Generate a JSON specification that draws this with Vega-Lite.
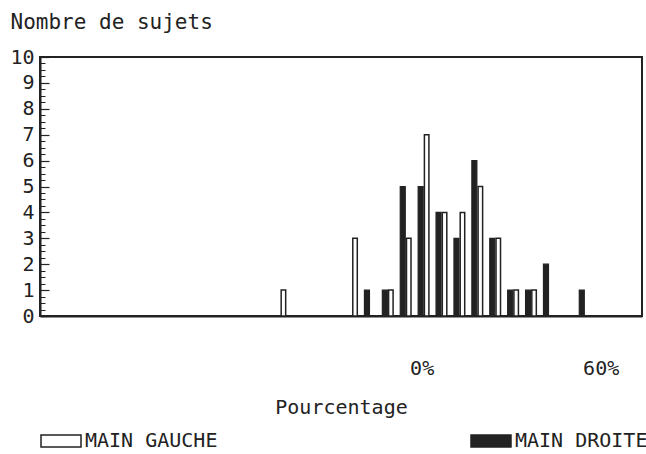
{
  "$schema": "https://vega.github.io/schema/vega-lite/v6.json",
  "width": 602,
  "height": 259,
  "autosize": {"type": "none"},
  "padding": {"left": 40, "top": 57, "right": 4, "bottom": 138},
  "background": "white",
  "config": {
    "view": {"stroke": "#222", "strokeWidth": 2},
    "font": "DejaVu Sans Mono",
    "axis": {"labelFont": "DejaVu Sans Mono", "titleFont": "DejaVu Sans Mono", "labelColor": "#222", "titleColor": "#222", "grid": false, "domainColor": "#222", "tickColor": "#222"},
    "legend": {"labelFont": "DejaVu Sans Mono", "labelColor": "#222"}
  },
  "data": {
    "values": [
      {"pct": -48, "main": "MAIN GAUCHE", "n": 1},
      {"pct": -24, "main": "MAIN GAUCHE", "n": 3},
      {"pct": -18, "main": "MAIN DROITE", "n": 1},
      {"pct": -12, "main": "MAIN DROITE", "n": 1},
      {"pct": -12, "main": "MAIN GAUCHE", "n": 1},
      {"pct": -6, "main": "MAIN DROITE", "n": 5},
      {"pct": -6, "main": "MAIN GAUCHE", "n": 3},
      {"pct": 0, "main": "MAIN DROITE", "n": 5},
      {"pct": 0, "main": "MAIN GAUCHE", "n": 7},
      {"pct": 6, "main": "MAIN DROITE", "n": 4},
      {"pct": 6, "main": "MAIN GAUCHE", "n": 4},
      {"pct": 12, "main": "MAIN DROITE", "n": 3},
      {"pct": 12, "main": "MAIN GAUCHE", "n": 4},
      {"pct": 18, "main": "MAIN DROITE", "n": 6},
      {"pct": 18, "main": "MAIN GAUCHE", "n": 5},
      {"pct": 24, "main": "MAIN DROITE", "n": 3},
      {"pct": 24, "main": "MAIN GAUCHE", "n": 3},
      {"pct": 30, "main": "MAIN DROITE", "n": 1},
      {"pct": 30, "main": "MAIN GAUCHE", "n": 1},
      {"pct": 36, "main": "MAIN DROITE", "n": 1},
      {"pct": 36, "main": "MAIN GAUCHE", "n": 1},
      {"pct": 42, "main": "MAIN DROITE", "n": 2},
      {"pct": 54, "main": "MAIN DROITE", "n": 1}
    ]
  },
  "layer": [
    {
      "transform": [{"filter": "datum.main === 'MAIN DROITE'"}],
      "mark": {"type": "bar", "width": 5, "xOffset": -3, "stroke": "#222", "strokeWidth": 1.2},
      "encoding": {
        "x": {
          "field": "pct", "type": "quantitative",
          "scale": {"domain": [-126.9, 71.5], "nice": false, "zero": false},
          "axis": {
            "values": [0, 60], "labelExpr": "datum.value + '%'", "ticks": false,
            "domainWidth": 2, "labelFontSize": 20, "labelPadding": 42, "labelOffset": -2,
            "title": "Pourcentage", "titleFontSize": 20, "titleFontWeight": "normal",
            "titleX": 301, "titleY": 97, "titleAlign": "center", "titleBaseline": "alphabetic"
          }
        },
        "y": {
          "field": "n", "type": "quantitative",
          "scale": {"domain": [0, 10], "nice": false},
          "axis": {
            "orient": "left", "values": [0,1,2,3,4,5,6,7,8,9,10], "tickSize": -9, "tickWidth": 1.2,
            "domainWidth": 2, "labelFontSize": 20, "labelPadding": 15, "labelBaseline": "middle",
            "title": "Nombre de sujets", "titleFontSize": 21, "titleFontWeight": "normal",
            "titleAngle": 0, "titleAlign": "left", "titleBaseline": "alphabetic", "titleX": -30, "titleY": -29
          }
        },
        "fill": {
          "field": "main", "type": "nominal",
          "scale": {"domain": ["MAIN GAUCHE", "MAIN DROITE"], "range": ["white", "#222"]},
          "legend": {
            "orient": "none", "legendX": 0, "legendY": 363, "direction": "horizontal", "columns": 2,
            "title": null, "symbolType": "M-1,-0.3H1V0.3H-1Z", "symbolSize": 1600,
            "symbolStrokeColor": "#222", "symbolStrokeWidth": 1.5, "labelFontSize": 20,
            "labelOffset": 3, "columnPadding": 250, "labelLimit": 300
          }
        }
      }
    },
    {
      "transform": [{"filter": "datum.main === 'MAIN GAUCHE'"}],
      "mark": {"type": "bar", "width": 4.5, "xOffset": 3, "stroke": "#222", "strokeWidth": 1.5},
      "encoding": {
        "x": {"field": "pct", "type": "quantitative"},
        "y": {
          "field": "n", "type": "quantitative",
          "axis": {
            "orient": "left", "values": [0,0.25,0.5,0.75,1,1.25,1.5,1.75,2,2.25,2.5,2.75,3,3.25,3.5,3.75,4,4.25,4.5,4.75,5,5.25,5.5,5.75,6,6.25,6.5,6.75,7,7.25,7.5,7.75,8,8.25,8.5,8.75,9,9.25,9.5,9.75,10],
            "tickSize": -5, "tickWidth": 1, "labels": false, "domain": false, "title": null
          }
        },
        "fill": {"field": "main", "type": "nominal"}
      }
    }
  ],
  "resolve": {"axis": {"y": "independent"}}
}
